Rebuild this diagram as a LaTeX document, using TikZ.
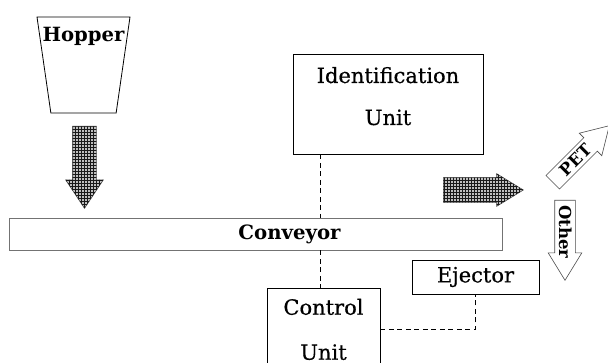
\documentclass[tikz,border=0pt]{standalone}
\usepackage{fontspec}
\setmainfont{DejaVu Serif}
\newfontfamily\unitfam{DejaVu Serif}[FakeBold=0.6]
\usetikzlibrary{shapes.geometric,shapes.arrows,patterns}
\newcommand\unitfont{\unitfam\fontsize{21}{42}\selectfont}
\newcommand\tagfont{\fontsize{16.5}{18}\selectfont\bfseries}
\tikzset{
  unitbox/.style = {rectangle, draw=black, line width=0.8pt, align=center,
    inner sep=0pt, font=\unitfont},% boxes of the machine
  blockarrow/.style = {single arrow, draw=black!70, line width=0.6pt,
    minimum height=80pt, inner xsep=0pt},% thick flow arrows
  hatcharrow/.style = {blockarrow, fill=gray!50,
    postaction={pattern=grid, pattern color=black!90},
    text height=0pt, text depth=0pt},% checkered arrow
  openarrow/.style = {blockarrow, fill=white, font=\tagfont,
    text height=12pt, text depth=0pt},% white arrow with a tag
  link/.style = {line width=0.7pt, dash pattern=on 5pt off 3.5pt}% signal line
}
\begin{document}
\begin{tikzpicture}[x=1pt,y=-1pt]
\useasboundingbox (0,0) rectangle (608,363);
% hopper and its feed arrow
\node [trapezium, draw, line width=0.8pt, shape border rotate=180,
  trapezium left angle=78, trapezium right angle=78, trapezium stretches=true,
  minimum width=93pt, minimum height=96pt, inner sep=1pt,
  label={[anchor=center, yshift=-20pt, font=\fontsize{19.6}{22}\selectfont\bfseries]north:Hopper}]
  (hopper) at (83.5,65) {};
\node [hatcharrow, rotate=-90, anchor=tail, inner ysep=11.5pt,
  single arrow head extend=7pt, single arrow tip angle=67,
  minimum height=82pt] (feed) at (84.5,126) {};
% conveyor belt
\node [rectangle, draw=black!55, line width=0.8pt, minimum width=493pt,
  minimum height=32pt, inner sep=0pt,
  label={[xshift=34pt, font=\fontsize{19.7}{22}\selectfont\bfseries]center:Conveyor}]
  (conveyor) at (255.5,234) {};
% units
\node [unitbox, minimum width=190pt, minimum height=100pt, text depth=16pt]
  (idunit) at (388,104) {Identification\\Unit};
\node [unitbox, anchor=north, minimum width=113pt, minimum height=82pt]
  (control) at (323.5,288) {Control\\[3pt]Unit};
\node [unitbox, minimum width=127pt, minimum height=34pt]
  (ejector) at (475.5,277) {Ejector};
% output arrows
\node [hatcharrow, anchor=tail, inner ysep=12pt,
  single arrow head extend=4pt, single arrow tip angle=63]
  (out) at (443,190) {};
\node [openarrow, rotate=45, anchor=tail, inner ysep=3.2pt,
  single arrow head extend=6.4pt, single arrow tip angle=62]
  (pet) at (552.5,182.5) {PET};
\node [openarrow, rotate=-90, anchor=tail, inner ysep=4pt,
  single arrow head extend=6.5pt, single arrow tip angle=63]
  (other) at (565,200) {Other};
% signal lines
\coordinate (bus) at (320,0);
\draw [link] (idunit.south -| bus) -- (conveyor.north -| bus);
\draw [link] (conveyor.south -| bus) -- (control.north -| bus);
\draw [link] (control.east) -| (ejector.south);
\end{tikzpicture}
\end{document}
